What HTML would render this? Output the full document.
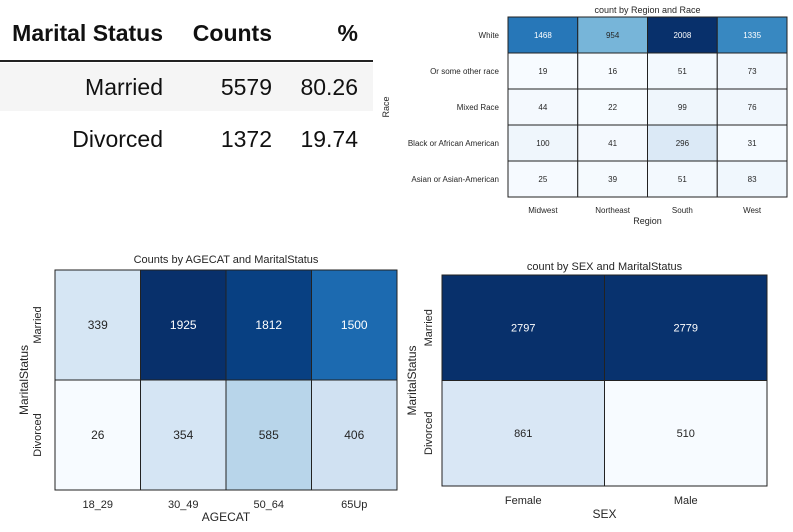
<!DOCTYPE html>
<html><head><meta charset="utf-8">
<style>
body{margin:0;background:#fff;width:793px;height:532px;overflow:hidden;font-family:"Liberation Sans",Arial,sans-serif;}
svg{position:absolute;left:0;top:0}
</style></head><body>
<svg id="s" width="793" height="532">
<g font-family="Liberation Sans, Arial, sans-serif" font-size="23" fill="#111">
<rect x="0" y="63" width="373" height="48" fill="#f5f5f5"/>
<line x1="0" y1="61" x2="373" y2="61" stroke="#222" stroke-width="2"/>
<text x="163" y="41" text-anchor="end" font-weight="bold">Marital Status</text>
<text x="272" y="41" text-anchor="end" font-weight="bold">Counts</text>
<text x="358" y="41" text-anchor="end" font-weight="bold">%</text>
<text x="163" y="95" text-anchor="end">Married</text>
<text x="272" y="95" text-anchor="end">5579</text>
<text x="358" y="95" text-anchor="end">80.26</text>
<text x="163" y="147" text-anchor="end">Divorced</text>
<text x="272" y="147" text-anchor="end">1372</text>
<text x="358" y="147" text-anchor="end">19.74</text>
</g>
</svg>
<script>
const raceRows=["White","Or some other race","Mixed Race","Black or African American","Asian or Asian-American"];
const regionCols=["Midwest","Northeast","South","West"];
const raceValues=[[1468,954,2008,1335],[19,16,51,73],[44,22,99,76],[100,41,296,31],[25,39,51,83]];
const ageRows=["Married","Divorced"];
const ageCols=["18_29","30_49","50_64","65Up"];
const ageValues=[[339,1925,1812,1500],[26,354,585,406]];
const sexRows=["Married","Divorced"];
const sexCols=["Female","Male"];
const sexValues=[[2797,2779],[861,510]];

const blues=[[247,251,255],[222,235,247],[198,219,239],[158,202,225],[107,174,214],[66,146,198],[33,113,181],[8,81,156],[8,48,107]];
function cmap(t){t=Math.max(0,Math.min(1,t));const p=t*(blues.length-1),i=Math.min(blues.length-2,Math.floor(p)),f=p-i;
const c=blues[i].map((v,k)=>Math.round(v+(blues[i+1][k]-v)*f));return [`rgb(${c.join(',')})`,t];}
const NS="http://www.w3.org/2000/svg",svg=document.getElementById('s');
function mk(tag,attrs,parent,txt){const e=document.createElementNS(NS,tag);for(const k in attrs)e.setAttribute(k,attrs[k]);if(txt!=null)e.textContent=txt;parent.appendChild(e);return e;}
function heat(o){
const g=mk('g',{},svg);


const flat=o.vals.flat(),mn=Math.min(...flat),mx=Math.max(...flat);
const cw=(o.x1-o.x0)/o.cols.length,ch=(o.y1-o.y0)/o.rows.length;
const xs=j=>o.x0+j*cw, ys=i=>o.y0+i*ch;
o.vals.forEach((row,i)=>row.forEach((v,j)=>{
const [col,t]=cmap((v-mn)/(mx-mn));
const r=mk('rect',{x:xs(j),y:ys(i),width:cw,height:ch,fill:col,stroke:'#222','stroke-width':o.sw},g);


const tx=mk('text',{x:xs(j)+cw/2,y:ys(i)+ch/2+o.fs*0.35,'text-anchor':'middle','font-size':o.fs,fill:t>0.5?'#fff':'#262626'},g,v);


}));
o.cols.forEach((c,j)=>{const t=mk('text',{x:xs(j)+cw/2,y:o.xly,'text-anchor':'middle','font-size':o.tfs,fill:'#262626'},g,c);

});
o.rows.forEach((r,i)=>{let t;
if(o.rotY){const cx=o.x0-o.ylOff,cy=ys(i)+ch/2;t=mk('text',{x:cx,y:cy,'text-anchor':'middle','font-size':o.tfs,fill:'#262626',transform:`rotate(-90 ${cx} ${cy})`},g,r);}
else t=mk('text',{x:o.x0-o.ylOff,y:ys(i)+ch/2+o.tfs*0.35,'text-anchor':'end','font-size':o.tfs,fill:'#262626'},g,r);

});
const ti=mk('text',{x:(o.x0+o.x1)/2,y:o.ty,'text-anchor':'middle','font-size':o.titfs,fill:'#262626'},g,o.title);


const xt=mk('text',{x:(o.x0+o.x1)/2,y:o.xty,'text-anchor':'middle','font-size':o.axfs,fill:'#262626'},g,o.xtitle);


const yc=(o.y0+o.y1)/2;
const yt=mk('text',{x:o.ytx,y:yc,'text-anchor':'middle','font-size':o.axfs,fill:'#262626',transform:`rotate(-90 ${o.ytx} ${yc})`},g,o.ytitle);


}
heat({name:'heatmap-region-race',rows:raceRows,cols:regionCols,vals:raceValues,x0:508,x1:787,y0:17,y1:197,sw:1,fs:8,tfs:8,titfs:9,axfs:9,
ylOff:9,xly:213,xty:224,ty:13,ytx:389,title:'count by Region and Race',xtitle:'Region',ytitle:'Race'});
heat({name:'heatmap-agecat-marital',rows:ageRows,cols:ageCols,vals:ageValues,x0:55,x1:397,y0:270,y1:490,sw:1,fs:12,tfs:11,titfs:11,axfs:12,
rotY:true,ylOff:14,xly:508,xty:521,ty:263,ytx:28,title:'Counts by AGECAT and MaritalStatus',xtitle:'AGECAT',ytitle:'MaritalStatus'});
heat({name:'heatmap-sex-marital',rows:sexRows,cols:sexCols,vals:sexValues,x0:442,x1:767,y0:275,y1:486,sw:1,fs:11,tfs:11,titfs:11,axfs:12,
rotY:true,ylOff:10,xly:504,xty:518,ty:270,ytx:416,title:'count by SEX and MaritalStatus',xtitle:'SEX',ytitle:'MaritalStatus'});
</script>
</body></html>
